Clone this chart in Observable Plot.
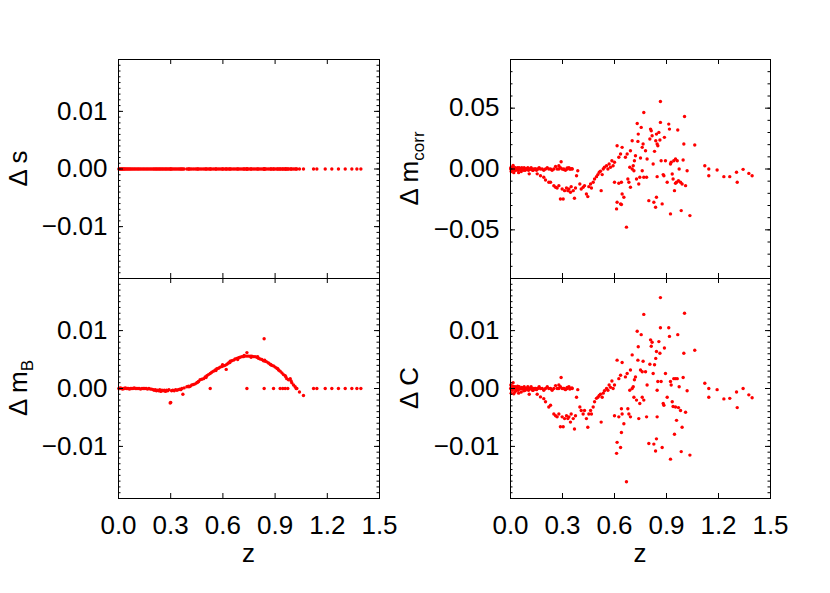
<!DOCTYPE html>
<html><head><meta charset="utf-8">
<script src="https://cdn.jsdelivr.net/npm/d3@7"></script>
<script src="https://cdn.jsdelivr.net/npm/@observablehq/plot@0.6"></script>
<style>
body{margin:0;background:#fff;}
#chart{position:relative;width:830px;height:593px;overflow:hidden;background:#fff;}
#chart svg{position:absolute;left:0;top:0;}
</style></head><body><div id="chart"></div>
<script>
// ---------- DATA ----------
// x-axis ticks
const xTicks = [0, 0.3, 0.6, 0.9, 1.2, 1.5];
const xTickLabels = ["0.0", "0.3", "0.6", "0.9", "1.2", "1.5"];
const yTicksSmall = [-0.01, 0, 0.01];
const yTicksMcorr = [-0.05, 0, 0.05];

// Left column: redshifts and Δ m_B (also used for Δ s)
const zB = [
  0.002,0.006,0.011,0.015,0.020,0.024,0.029,0.034,0.039,0.045,0.051,0.057,0.063,0.069,0.076,0.083,0.090,0.097,0.105,0.112,
  0.119,0.127,0.135,0.143,0.151,0.159,0.167,0.175,0.183,0.191,
  0.199,0.205,0.212,0.218,0.224,0.231,0.237,0.243,0.250,0.256,0.263,0.270,0.276,0.283,0.290,0.297,0.300,0.305,0.312,0.320,
  0.328,0.336,0.344,0.352,0.358,0.370,
  0.364,0.377,0.393,0.402,0.412,0.421,0.431,0.441,0.450,0.460,0.469,0.479,0.489,0.498,0.508,0.517,0.527,0.536,0.546,0.556,
  0.565,0.575,0.584,0.594,0.603,0.613,0.619,0.623,0.632,0.642,0.651,0.661,0.670,0.680,0.690,0.699,0.709,0.718,0.728,0.738,
  0.738,0.747,0.757,0.766,0.776,0.785,0.795,0.805,0.814,0.824,0.833,0.837,0.843,0.852,0.862,0.872,0.881,0.891,0.900,0.910,
  0.920,0.929,0.939,0.948,0.958,0.967,0.977,0.987,0.996,1.006,1.015,1.025,1.040,1.063,
  0.405,0.455,0.503,0.560,0.598,0.640,0.685,0.722,0.762,0.800,0.840,0.876,0.915,0.962,0.992,
  0.527,0.738,0.837,0.891,0.929,0.944,0.958,0.973,1.021,
  1.121,1.140,1.188,1.226,1.264,1.303,1.341,1.370,1.393
];
const dMB = [
  0,0,0.0001,0,0,-0.0001,0,0,0.0001,0,0,0,-0.0001,0,0,0,0.0001,0,0,0,
  0,-0.0001,0,0,0,0,-0.0001,0,-0.0001,-0.0001,
  -0.0002,-0.0003,-0.0002,-0.0004,-0.0003,-0.0004,-0.0002,-0.0005,-0.0003,-0.0004,-0.0003,-0.0005,-0.0003,-0.0004,-0.0002,-0.0025,-0.0024,-0.0004,-0.0003,-0.0004,
  -0.0002,-0.0003,-0.0002,-0.0001,-0.0002,-0.0010,
  0,0.0001,0.0003,0.0004,0.0004,0.0006,0.0007,0.0008,0.0010,0.0012,0.0015,0.0016,0.0017,0.0020,0.0022,0.0024,0.0026,0.0028,0.0030,0.0032,
  0.0034,0.0035,0.0037,0.0038,0.0039,0.0040,0.0033,0.0042,0.0044,0.0047,0.0048,0.0049,0.0051,0.0052,0.0053,0.0054,0.0055,0.0055,0.0056,0.0056,
  0.0062,0.0056,0.0056,0.0056,0.0055,0.0055,0.0054,0.0052,0.0051,0.0050,0.0048,0.0086,0.0047,0.0046,0.0044,0.0042,0.0040,0.0039,0.0037,0.0035,
  0.0032,0.0030,0.0027,0.0024,0.0022,0.0017,0.0015,0.0017,0.0010,0.0006,0.0003,0.0000,-0.0006,-0.0012,
  0.0003,0.0011,0.0019,0.0031,0.0041,0.0045,0.0050,0.0057,0.0054,0.0055,0.0049,0.0041,0.0034,0.0020,0.0013,
  0,0,0,0,0,0,0,0,0,
  0,0,0,0,0,0,0,0,0
];
const dS = [
  0,0,0,0,0,0,0,0,0,0,0,0,0,0,0,0,0,0,0,0,
  0,0,0,0,0,0,0,0,0,0,
  0,0,0,0,0,0,0,0,0,0,0,0,0,0,0,0,0,0,0,0,
  0,0,0,0,0,0,
  0,0,0,0,0,0,0,0,0,0,0,0,0,0,0,0,0,0,0,0,
  0,0,0,0,0,0,0,0,0,0,0,0,0,0,0,0,0,0,0,0,
  0,0,0,0,0,0,0,0,0,0,0,0,0,0,0,0,0,0,0,0,
  0,0,0,0,0,0,0,0,0,0,0,0,0,0,
  0,0,0,0,0,0,0,0,0,0,0,0,0,0,0,
  0,0,0,0,0,0,0,0,0,
  0,0,0,0,0,0,0,0,0
];

// Right column: redshifts, Δ m_corr and Δ C
const zR = [
  0.002,0.004,0.008,0.012,0.015,0.019,0.023,0.027,0.031,0.035,0.038,0.044,0.050,0.056,0.062,0.067,0.073,0.079,0.085,0.090,
  0.096,0.104,0.112,0.119,0.127,0.135,0.142,0.150,0.158,0.165,0.173,0.183,0.192,0.202,0.212,0.221,0.231,0.240,0.250,0.260,
  0.269,0.279,0.288,0.298,0.308,0.317,0.327,0.337,0.346,0.356,
  0.001,0.006,0.010,0.014,0.017,0.021,0.025,0.029,0.033,0.041,0.047,0.053,0.059,0.065,0.071,0.077,0.083,0.094,0.100,0.108,
  0.116,0.123,0.131,0.146,0.154,
  0.173,0.192,0.202,0.221,0.231,0.250,0.260,0.269,0.279,0.288,0.304,0.298,0.312,0.323,0.331,0.337,0.346,0.350,0.362,0.369,
  0.375,0.381,0.388,0.400,0.408,0.419,0.427,0.438,0.446,0.452,0.462,0.467,0.477,0.485,0.496,0.504,0.512,0.519,0.529,0.535,
  0.542,0.554,0.562,0.569,0.577,0.585,0.592,0.600,0.523,
  0.279,0.292,0.308,0.327,0.342,0.354,
  0.600,0.612,0.615,0.625,0.615,0.625,0.635,0.640,0.644,0.635,0.640,0.644,0.654,0.669,0.663,0.673,0.677,0.683,0.688,0.692,
  0.692,0.702,0.702,0.708,0.712,0.715,0.721,0.727,0.731,0.735,0.737,0.740,0.746,0.750,0.754,0.760,0.760,0.765,0.769,0.769,
  0.779,0.785,0.788,0.798,0.804,0.808,0.812,0.817,0.823,0.827,0.831,0.837,0.838,0.842,0.842,0.846,0.846,0.850,0.856,0.862,
  0.865,0.865,0.869,0.875,0.881,0.885,0.888,0.894,0.904,0.913,0.917,0.923,0.923,0.927,0.933,0.938,0.942,0.946,0.952,0.952,
  0.958,0.962,0.965,0.969,0.973,0.981,0.985,0.990,0.996,1.000,1.004,1.010,1.019,1.035,1.063,
  1.121,1.144,1.144,1.192,1.231,1.265,1.304,1.308,1.342,1.375,1.394
];
const mCorr = [
  0.001,-0.002,0,0.001,0.003,-0.003,0,0.001,-0.001,0,0,-0.001,0.001,0,-0.002,0,0,0.001,-0.001,0,
  0,-0.001,0,0.001,-0.001,0,0,-0.001,0,0.001,0,0,-0.001,0,0.001,0,0,-0.001,0,0.002,
  0,0,0.001,0,0,-0.001,0,0.001,0,0,
  0,0.001,-0.001,0,0,0.001,-0.001,0,0,0.001,-0.003,0,0,0.001,0,-0.001,0,0,0.001,-0.004,
  0,0,-0.001,0,-0.004,
  -0.0055,-0.0068,-0.0090,-0.0109,-0.0109,-0.0137,-0.0150,-0.0156,-0.0137,-0.0246,-0.0246,-0.0164,-0.0178,-0.0156,-0.0178,-0.0164,-0.0191,-0.0145,-0.0178,-0.0240,
  -0.0156,-0.0055,-0.0014,-0.0123,-0.0164,-0.0150,-0.0137,-0.0205,-0.0227,-0.0145,-0.0123,-0.0156,-0.0109,-0.0082,-0.0063,-0.0046,-0.0027,-0.0019,-0.0046,0,
  0.0014,0.0027,0,0.0041,0.0014,0.0068,0.0027,0.0055,-0.0178,
  0.0027,0.0060,-0.0005,0.0008,0,0.0003,
  -0.0109,-0.0328,-0.0273,-0.0117,0.0191,0.0096,0.0123,-0.0109,0.0178,-0.0287,-0.0292,-0.0205,-0.0232,-0.0478,0.0096,0.0123,-0.0082,-0.0109,0.0014,-0.0150,
  0.0150,0.0232,0,0.0027,-0.0014,0.0068,0.0109,-0.0082,0.0374,0.0227,0.0287,-0.0123,-0.0068,0.0090,0.0342,0.0178,-0.0014,0.0205,0.0464,-0.0068,
  0.0150,-0.0068,0.0082,-0.0260,0.0246,0.0328,0.0314,0.0273,0.0041,-0.0273,0.0145,-0.0314,0.0232,-0.0232,0.0287,-0.0063,0.0205,0.0191,0.0301,0.0238,
  0.0555,0.0383,0.0068,-0.0287,-0.0046,-0.0055,0.0260,0.0068,-0.0109,0.0369,0.0328,-0.0369,0.0041,0.0055,-0.0041,-0.0082,0.0068,-0.0178,0.0082,-0.0117,
  -0.0109,0.0068,0.0320,-0.0096,0,-0.0109,-0.0342,-0.0123,0.0074,0.0205,0.0432,-0.0137,-0.0014,-0.0383,0.0197,
  0.0027,0,-0.0055,-0.0008,-0.0063,-0.0063,-0.0027,-0.0109,-0.0003,-0.0036,-0.0055
];
const dC = [
  0.0006,-0.0008,0,0.0004,0.001,-0.0009,0,0.0003,-0.0004,0,0.0002,-0.0003,0.0003,0,-0.0006,0,0,0.0003,-0.0003,0,
  0,-0.0003,0,0.0003,-0.0003,0,0,-0.0002,0,0.0003,0,0,-0.0003,0,0.0003,0,0,-0.0003,0,0.0005,
  0,0,0.0003,0,0,-0.0002,0,0.0003,0,0,
  0,0.0003,-0.0003,0,0,0.0003,-0.0006,0,0,0.0004,-0.0008,0,0,0.0002,0,-0.0004,0,0,0.0003,-0.001,
  0,0,-0.0003,0,-0.001,
  -0.00145,-0.00175,-0.0023,-0.0032,-0.0029,-0.0044,-0.0047,-0.0049,-0.0044,-0.0066,-0.0066,-0.0049,-0.0052,-0.0047,-0.0052,-0.0049,-0.0058,-0.0044,-0.0052,-0.0070,
  -0.0047,-0.0015,-0.0002,-0.0032,-0.0038,-0.0044,-0.0038,-0.0052,-0.0067,-0.0044,-0.0038,-0.0044,-0.0032,-0.0023,-0.0017,-0.0015,-0.0012,-0.0010,-0.0015,-0.0008,
  -0.0004,0,-0.0003,0.0006,0.0002,0.0013,0,0.0006,-0.0058,
  0.0006,0.0019,0,0.0002,-0.0001,0.0001,
  -0.0047,-0.0112,-0.0093,-0.0049,0.0049,0.0017,0.0023,-0.0035,0.0045,-0.0102,-0.0076,-0.0044,-0.0061,-0.0161,0.0020,0.0026,-0.0035,-0.0044,-0.0003,-0.0049,
  0.0032,0.0058,0,0.0003,-0.0015,0.0015,0.0020,-0.0020,0.0099,0.0049,0.0072,-0.0052,-0.0026,0.0032,0.0093,0.0029,-0.0015,0.0047,0.0128,-0.0020,
  0.0029,-0.0049,0.0006,-0.0095,0.0042,0.0084,0.0073,0.0080,0.0026,-0.0096,0.0041,-0.0108,0.0052,-0.0087,0.0064,-0.0049,-0.0003,0.0012,0.0081,0.0061,
  0.0157,0.0105,0.0012,-0.0102,-0.0026,-0.0029,0.0070,0.0026,-0.0015,0.0105,0.0090,-0.0122,0.0012,0.0006,-0.0023,-0.0031,0.0017,-0.0079,0.0017,-0.0032,
  -0.0055,0.0017,0.0093,-0.0033,0.0003,-0.0038,-0.0109,-0.0067,0.0019,0.0061,0.0130,-0.0041,-0.0004,-0.0115,0.0066,
  0.0009,0,-0.0015,-0.0002,-0.0018,-0.0017,-0.0006,-0.0033,0,-0.0011,-0.0016
];

// ---------- DRAWING ----------
const W = 830, H = 593;
const FONT = '"Liberation Sans", Arial, Helvetica, sans-serif';
const minus = s => s.replace("-", "\u2212");

function panel(opts) {
  const {z, v, x0, x1, y0, y1, yDomain, yMajor, yMinorStep, showX, title, sub, titleX} = opts;
  const pw = x1 - x0, ph = y1 - y0;
  const nMin = Math.round((yDomain[1] - yDomain[0]) / yMinorStep);
  const yMinor = d3.range(nMin + 1).map(i => +(yDomain[0] + i * yMinorStep).toFixed(4));
  const marks = [
    Plot.dot(z, {x: d => d, y: (d, i) => v[i], r: 1.7, fill: "#ff0000", stroke: "none"}),
    Plot.frame({stroke: "#000", strokeWidth: 1}),
    Plot.tickX(xTicks, {x: d => d, insetTop: ph - 5, stroke: "#000"}),
    Plot.tickX(xTicks, {x: d => d, insetBottom: ph - 5, stroke: "#000"}),
    Plot.tickY(yMajor, {y: d => d, insetRight: pw - 5, stroke: "#000"}),
    Plot.tickY(yMajor, {y: d => d, insetLeft: pw - 5, stroke: "#000"}),
    Plot.tickY(yMinor, {y: d => d, insetRight: pw - 2.5, stroke: "#000"}),
    Plot.tickY(yMinor, {y: d => d, insetLeft: pw - 2.5, stroke: "#000"}),
    Plot.axisY({ticks: yMajor, tickSize: 0, tickPadding: 11, tickFormat: d => minus(d.toFixed(2)), label: null})
  ];
  if (showX) marks.push(Plot.axisX({ticks: xTicks, tickSize: 0, tickPadding: 17,
    tickFormat: d => xTickLabels[xTicks.indexOf(d)], label: null}));
  const svg = Plot.plot({
    width: W, height: H,
    marginLeft: x0, marginRight: W - x1, marginTop: y0, marginBottom: H - y1,
    x: showX ? {domain: [0, 1.5]} : {domain: [0, 1.5], axis: null},
    y: {domain: yDomain},
    style: {background: "transparent", fontFamily: FONT, fontSize: "26px", color: "#000", overflow: "visible"},
    marks
  });
  const s = d3.select(svg);
  const t = s.append("text")
    .attr("transform", `translate(${titleX},${(y0 + y1) / 2}) rotate(-90)`)
    .attr("text-anchor", "middle")
    .attr("font-family", FONT).attr("font-size", 26).attr("fill", "#000");
  t.append("tspan").text(title);
  if (sub) t.append("tspan").attr("font-size", 17).attr("dy", 6).text(sub);
  if (showX) {
    s.append("text").attr("x", (x0 + x1) / 2).attr("y", 562)
      .attr("text-anchor", "middle").attr("font-family", FONT).attr("font-size", 26).attr("fill", "#000")
      .text("z");
  }
  document.getElementById("chart").appendChild(svg);
}

panel({z: zB, v: dS, x0: 118, x1: 379, y0: 59, y1: 278, yDomain: [-0.019, 0.019],
  yMajor: yTicksSmall, yMinorStep: 0.001, showX: false, title: "\u0394 s", titleX: 27});
panel({z: zB, v: dMB, x0: 118, x1: 379, y0: 278, y1: 498, yDomain: [-0.019, 0.019],
  yMajor: yTicksSmall, yMinorStep: 0.001, showX: true, title: "\u0394 m", sub: "B", titleX: 27});
panel({z: zR, v: mCorr, x0: 510, x1: 770, y0: 59, y1: 278, yDomain: [-0.09, 0.09],
  yMajor: yTicksMcorr, yMinorStep: 0.01, showX: false, title: "\u0394 m", sub: "corr", titleX: 418});
panel({z: zR, v: dC, x0: 510, x1: 770, y0: 278, y1: 498, yDomain: [-0.019, 0.019],
  yMajor: yTicksSmall, yMinorStep: 0.001, showX: true, title: "\u0394 C", titleX: 418});
</script></body></html>
